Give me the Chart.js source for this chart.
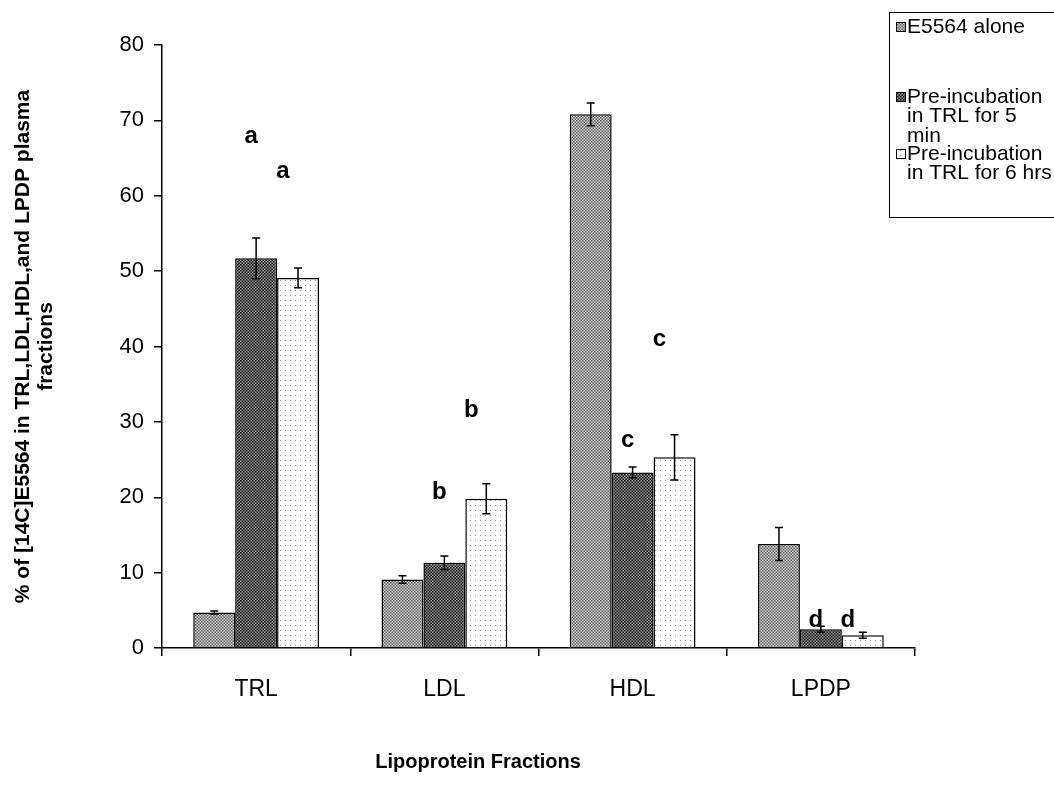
<!DOCTYPE html>
<html>
<head>
<meta charset="utf-8">
<script src="https://cdn.jsdelivr.net/npm/chart.js@4"></script>
<style>
  html,body{margin:0;padding:0;background:#fff;}
  canvas{display:block;}
</style>
</head>
<body>
<canvas id="chart" width="1054" height="794"></canvas>
<script>
/* ========= DATA ========= */
const CATEGORIES = ["TRL","LDL","HDL","LPDP"];
const SERIES_LABELS = [
  ["E5564 alone"],
  ["Pre-incubation","in TRL for 5","min"],
  ["Pre-incubation","in TRL for 6 hrs"]
];
const ALONE      = [4.7, 9.1, 70.8, 13.8];
const PRE_5MIN   = [51.7, 11.3, 23.3, 2.5];
const PRE_6HRS   = [49.1, 19.8, 25.3, 1.7];
const ERR_ALONE  = [0.2, 0.5, 1.5, 2.2];
const ERR_5MIN   = [2.7, 0.9, 0.7, 0.4];
const ERR_6HRS   = [1.3, 2.0, 3.0, 0.4];
const Y_TICKS    = [0,10,20,30,40,50,60,70,80];
const X_TITLE    = "Lipoprotein Fractions";
const Y_TITLE    = ["% of [14C]E5564 in TRL,LDL,HDL,and LPDP plasma","fractions"];

// significance letters: letter, series index, category index, y value
const SIG_LETTERS = ["a","a","b","b","c","c","d","d"];
const SIG_SERIES  = [1,2,1,2,1,2,1,2];
const SIG_CATS    = [0,0,1,1,2,2,3,3];
const SIG_Y       = [67.9,63.2,20.7,31.5,27.5,40.9,3.7,3.7];

/* ========= PATTERNS ========= */
function checker(a,b,cell){
  const c = document.createElement("canvas");
  c.width = c.height = cell*2;
  const x = c.getContext("2d");
  x.fillStyle = b; x.fillRect(0,0,cell*2,cell*2);
  x.fillStyle = a;
  x.fillRect(0,0,cell,cell); x.fillRect(cell,cell,cell,cell);
  return x.createPattern(c,"repeat");
}
function dots(){
  const c = document.createElement("canvas");
  c.width = c.height = 5;
  const x = c.getContext("2d");
  x.fillStyle = "#fff"; x.fillRect(0,0,5,5);
  x.fillStyle = "#8a8a8a"; x.fillRect(0,0,1,1);
  return x.createPattern(c,"repeat");
}
const FILLS = [checker("#5c5c5c","#d6d6d6",1.5), checker("#0a0a0a","#9c9c9c",1.5), dots()];
const VALUES = [ALONE, PRE_5MIN, PRE_6HRS];
const ERRORS = [ERR_ALONE, ERR_5MIN, ERR_6HRS];

const FONT = "'Liberation Sans', Arial, sans-serif";

/* ========= PLUGINS ========= */
const errorBars = {
  id:"errorBars",
  afterDatasetsDraw(chart){
    const ctx = chart.ctx, y = chart.scales.y;
    ctx.save();
    ctx.strokeStyle = "#000"; ctx.lineWidth = 1.5;
    chart.data.datasets.forEach((ds,di)=>{
      chart.getDatasetMeta(di).data.forEach((bar,i)=>{
        const v = ds.data[i], e = ERRORS[di][i];
        const t = y.getPixelForValue(v+e), b = y.getPixelForValue(v-e);
        ctx.beginPath();
        ctx.moveTo(bar.x,t); ctx.lineTo(bar.x,b);
        ctx.moveTo(bar.x-4,t); ctx.lineTo(bar.x+4,t);
        ctx.moveTo(bar.x-4,b); ctx.lineTo(bar.x+4,b);
        ctx.stroke();
      });
    });
    ctx.restore();
  }
};

const sigLetters = {
  id:"sigLetters",
  afterDatasetsDraw(chart){
    const ctx = chart.ctx, y = chart.scales.y;
    ctx.save();
    ctx.fillStyle = "#000";
    ctx.font = "bold 24px " + FONT;
    ctx.textAlign = "center"; ctx.textBaseline = "middle";
    SIG_LETTERS.forEach((l,k)=>{
      const bar = chart.getDatasetMeta(SIG_SERIES[k]).data[SIG_CATS[k]];
      const shift = SIG_SERIES[k] === 1 ? -5 : -15;
      ctx.fillText(l, bar.x + shift, y.getPixelForValue(SIG_Y[k]));
    });
    ctx.restore();
  }
};

const xTitle = {
  id:"xTitle",
  afterDraw(chart){
    const ctx = chart.ctx;
    ctx.save();
    ctx.fillStyle = "#000";
    ctx.font = "bold 20px " + FONT;
    ctx.textAlign = "center"; ctx.textBaseline = "middle";
    ctx.fillText(X_TITLE, 478, 762);
    ctx.restore();
  }
};

const boxLegend = {
  id:"boxLegend",
  afterDraw(chart){
    const ctx = chart.ctx;
    const tops = [27, 97, 154];
    ctx.save();
    ctx.strokeStyle = "#000"; ctx.lineWidth = 1;
    ctx.strokeRect(889.5, 12.5, 200, 205);
    ctx.font = "21px " + FONT;
    ctx.textBaseline = "middle"; ctx.textAlign = "left";
    SERIES_LABELS.forEach((lines,i)=>{
      ctx.fillStyle = FILLS[i];
      ctx.fillRect(896, tops[i]-5, 10, 10);
      ctx.strokeStyle = "#000";
      ctx.strokeRect(896.5, tops[i]-4.5, 9, 9);
      ctx.fillStyle = "#000";
      lines.forEach((s,j)=> ctx.fillText(s, 907, tops[i] + j*19.5));
    });
    ctx.restore();
  }
};

/* ========= CHART ========= */
new Chart(document.getElementById("chart"),{
  type:"bar",
  data:{
    labels:CATEGORIES,
    datasets:VALUES.map((d,i)=>({
      label:SERIES_LABELS[i].join(" "),
      data:d,
      backgroundColor:FILLS[i],
      borderColor:"#000",
      borderWidth:1.5,
      categoryPercentage:0.668,
      barPercentage:1
    }))
  },
  options:{
    responsive:false,
    animation:false,
    layout:{padding:{top:45,right:139,left:0,bottom:0}},
    plugins:{legend:{display:false},tooltip:{enabled:false}},
    scales:{
      x:{
        afterFit(s){ s.height = 146; },
        grid:{drawOnChartArea:false,color:"#000",tickLength:8,lineWidth:1.5},
        border:{color:"#000",width:1.5},
        ticks:{color:"#000",font:{family:FONT,size:23},padding:20}
      },
      y:{
        min:0,max:80,
        afterFit(s){ s.width = 162; },
        afterBuildTicks(s){ s.ticks = Y_TICKS.map(v=>({value:v})); },
        grid:{drawOnChartArea:false,color:"#000",tickLength:8,lineWidth:1.5},
        border:{color:"#000",width:1.5},
        ticks:{color:"#000",font:{family:FONT,size:22},padding:10},
        title:{display:true,text:Y_TITLE,color:"#000",
          font:{family:FONT,size:21,weight:"bold",lineHeight:1.12},padding:{top:11,bottom:0}}
      }
    }
  },
  plugins:[errorBars,sigLetters,xTitle,boxLegend]
});
</script>
</body>
</html>
